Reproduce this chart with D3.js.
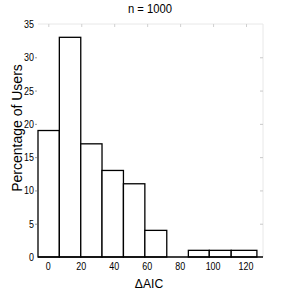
<!DOCTYPE html>
<html>
<head>
<meta charset="utf-8">
<script src="https://cdn.jsdelivr.net/npm/d3@7"></script>
<style>
  body { margin: 0; background: #fff; }
  text { font-family: "Liberation Sans", Arial, sans-serif; fill: #000; }
</style>
</head>
<body>
<svg width="291" height="291"></svg>
<script>
// histogram bins (ΔAIC) and percentage of users per bin
const binEdges = [-6.25, 6.7, 19.7, 32.6, 45.6, 58.6, 71.9, 85, 97.7, 111, 126.6];
const percents = [19, 33, 17, 13, 11, 4, 0, 1, 1, 1];
const xTicks = [0, 20, 40, 60, 80, 100, 120];
const yTicks = [0, 5, 10, 15, 20, 25, 30, 35];
const title = "n = 1000";

const svg = d3.select("svg");

const x = d3.scaleLinear().domain([-6.25, 130.3]).range([38, 263]);
const y = d3.scaleLinear().domain([0, 35]).range([257, 24]);

// faint box (top / right)
svg.append("line")
    .attr("x1", x.range()[0]).attr("x2", x.range()[1])
    .attr("y1", y(35)).attr("y2", y(35))
    .attr("stroke", "#e8e8e8");
svg.append("line")
    .attr("x1", x.range()[1]).attr("x2", x.range()[1])
    .attr("y1", y(35)).attr("y2", y(0))
    .attr("stroke", "#e8e8e8");

// little ticks on the top and right edges
svg.selectAll(".ttick").data(xTicks).join("line")
    .attr("x1", d => x(d) + 0.5).attr("x2", d => x(d) + 0.5)
    .attr("y1", y(35)).attr("y2", y(35) + 3)
    .attr("stroke", "#d0d0d0");
svg.selectAll(".rtick").data(yTicks.slice(1, -1)).join("line")
    .attr("x1", x.range()[1] - 3).attr("x2", x.range()[1])
    .attr("y1", d => y(d) + 0.5).attr("y2", d => y(d) + 0.5)
    .attr("stroke", "#c8c8c8");

// bars
const bins = percents.map((p, i) => ({ x0: binEdges[i], x1: binEdges[i + 1], v: p }));
svg.selectAll(".bar").data(bins.filter(d => d.v > 0)).join("rect")
    .attr("x", d => x(d.x0))
    .attr("y", d => y(d.v))
    .attr("width", d => x(d.x1) - x(d.x0))
    .attr("height", d => y(0) - y(d.v))
    .attr("fill", "#fff")
    .attr("stroke", "#000")
    .attr("stroke-width", 1.3);

// x axis line
svg.append("line")
    .attr("x1", x.range()[0]).attr("x2", x.range()[1])
    .attr("y1", y(0)).attr("y2", y(0))
    .attr("stroke", "#000").attr("stroke-width", 1.3);

// tick labels (slightly condensed like the original)
svg.selectAll(".xl").data(xTicks).join("text")
    .attr("transform", d => `translate(${x(d)},270) scale(0.85,1)`)
    .attr("text-anchor", "middle")
    .attr("font-size", 10.5)
    .text(d => d);

svg.selectAll(".yl").data(yTicks).join("text")
    .attr("transform", d => `translate(34,${y(d) + 4}) scale(0.85,1)`)
    .attr("text-anchor", "end")
    .attr("font-size", 10.5)
    .text(d => d);

// left tick marks
svg.selectAll(".ltick").data(yTicks.slice(1, -1)).join("line")
    .attr("x1", 35).attr("x2", 37)
    .attr("y1", d => y(d) + 0.5).attr("y2", d => y(d) + 0.5)
    .attr("stroke", "#999");

// title and axis labels
svg.append("text")
    .attr("transform", "translate(150,13) scale(0.9,1)")
    .attr("text-anchor", "middle")
    .attr("font-size", 12.5)
    .text(title);

svg.append("text")
    .attr("transform", "translate(149,288) scale(0.9,1)")
    .attr("text-anchor", "middle")
    .attr("font-size", 13.5)
    .text("ΔAIC");

svg.append("text")
    .attr("transform", "translate(22,128) rotate(-90)")
    .attr("text-anchor", "middle")
    .attr("font-size", 14)
    .text("Percentage of Users");
</script>
</body>
</html>
